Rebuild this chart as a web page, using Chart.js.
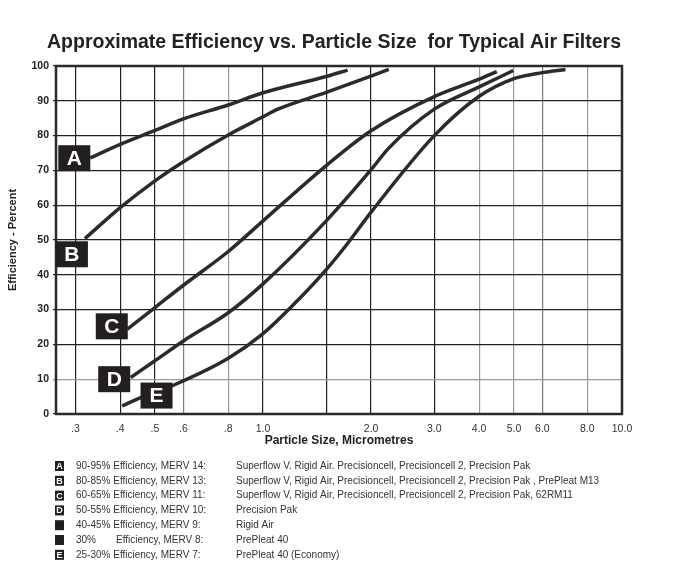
<!DOCTYPE html>
<html>
<head>
<meta charset="utf-8">
<script src="https://cdn.jsdelivr.net/npm/chart.js@4.4.1/dist/chart.umd.min.js"></script>
<style>
    html, body { margin: 0; padding: 0; background: #fff; }
    #wrap { position: relative; width: 679px; height: 583px; }
</style>
</head>
<body>
<div id="wrap"><canvas id="filters" width="679" height="583"></canvas></div>
<script>
    // axis ticks
    const xTicks = [0.3, 0.4, 0.5, 0.6, 0.8, 1.0, 1.5, 2.0, 3.0, 4.0, 5.0, 6.0, 8.0, 10.0];
    const xTickLabels = ['.3', '.4', '.5', '.6', '.8', '1.0', '', '2.0', '3.0', '4.0', '5.0', '6.0', '8.0', '10.0'];
    const yTicks = [0, 10, 20, 30, 40, 50, 60, 70, 80, 90, 100];

    // curves (particle size in micrometres, efficiency %)
    const curveA_x = [0.330, 0.4, 0.5, 0.6, 0.8, 1.0, 1.5, 1.72];
    const curveA_y = [73.6, 77.5, 81.5, 84.8, 88.8, 92.3, 97.0, 98.8];

    const curveB_x = [0.319, 0.4, 0.5, 0.6, 0.8, 1.0, 1.10, 1.5, 2.0, 2.24];
    const curveB_y = [50.4, 59.3, 67.0, 72.5, 80.2, 85.4, 87.6, 92.4, 97.1, 99.0];

    const curveC_x = [0.419, 0.5, 0.6, 0.8, 1.0, 1.5, 2.0, 3.0, 4.0, 4.48];
    const curveC_y = [24.4, 30.6, 37.0, 46.7, 55.5, 71.4, 81.4, 91.2, 96.2, 98.4];

    const curveD_x = [0.428, 0.5, 0.6, 0.8, 1.0, 1.5, 2.0, 2.24, 3.0, 4.0, 4.98];
    const curveD_y = [10.5, 15.3, 21.0, 29.1, 37.4, 55.5, 70.2, 76.4, 87.6, 94.0, 98.7];

    const curveE_x = [0.405, 0.456, 0.567, 0.8, 1.0, 1.226, 1.5, 1.72, 2.0, 3.0, 4.0, 5.0, 6.0, 6.96];
    const curveE_y = [2.3, 4.7, 8.4, 16.0, 23.1, 31.8, 41.5, 49.0, 58.0, 80.0, 91.3, 96.4, 98.1, 99.0];

    // letter tags on the curves
    const tagLetters = ['A', 'B', 'C', 'D', 'E'];
    const tagX = [0.298, 0.2935, 0.379, 0.385, 0.505];
    const tagY = [73.5, 45.9, 25.2, 10.0, 5.3];

    // key below the chart
    const keyCodes = ['A', 'B', 'C', 'D', '', '', 'E'];
    const keyRatings = ['90-95%', '80-85%', '60-65%', '50-55%', '40-45%', '30%', '25-30%'];
    const keyMerv = ['Efficiency, MERV 14:', 'Efficiency, MERV 13:', 'Efficiency, MERV 11:', 'Efficiency, MERV 10:',
        'Efficiency, MERV 9:', 'Efficiency, MERV 8:', 'Efficiency, MERV 7:'];
    const keyProducts = [
        'Superflow V. Rigid Air. Precisioncell, Precisioncell 2, Precision Pak',
        'Superflow V, Rigid Air, Precisioncell, Precisioncell 2, Precision Pak , PrePleat M13',
        'Superflow V, Rigid Air, Precisioncell, Precisioncell 2, Precision Pak, 62RM11',
        'Precision Pak',
        'Rigid Air',
        'PrePleat 40',
        'PrePleat 40 (Economy)'
    ];

    const FONT = "'Liberation Sans', Arial, Helvetica, sans-serif";

    function toPoints(xs, ys) {
        return xs.map((x, i) => ({ x: x, y: ys[i] }));
    }

    function gridColorX(ctx) {
        const v = ctx.tick ? ctx.tick.value : null;
        if (v === 0.6 || v === 6.0) return '#7a7a7a';
        if (v === 0.8 || v === 4.0 || v === 5.0 || v === 8.0) return '#9a9a9a';
        return '#222';
    }

    function gridColorY(ctx) {
        const v = ctx.tick ? ctx.tick.value : null;
        return v === 10 ? '#9a9a9a' : '#222';
    }

    // frame, tags, title and key
    const extrasPlugin = {
        id: 'extras',
        beforeDatasetsDraw(chart) {
            const { ctx, chartArea: a } = chart;
            ctx.save();
            ctx.strokeStyle = '#2a2a2a';
            ctx.lineWidth = 2.5;
            ctx.strokeRect(a.left, a.top, a.right - a.left, a.bottom - a.top);
            ctx.restore();
        },
        afterDatasetsDraw(chart) {
            const { ctx } = chart;
            const xs = chart.scales.x, ys = chart.scales.y;
            ctx.save();
            ctx.textAlign = 'center';
            ctx.textBaseline = 'middle';
            ctx.font = 'bold 21px ' + FONT;
            tagLetters.forEach((t, i) => {
                const px = xs.getPixelForValue(tagX[i]);
                const py = ys.getPixelForValue(tagY[i]);
                ctx.fillStyle = '#231f20';
                ctx.fillRect(px - 16, py - 13, 32, 26);
                ctx.fillStyle = '#fff';
                ctx.fillText(t, px, py + 1);
            });
            ctx.restore();
        },
        afterDraw(chart) {
            const { ctx } = chart;
            ctx.save();
            // title
            ctx.fillStyle = '#222';
            ctx.textAlign = 'center';
            ctx.textBaseline = 'middle';
            ctx.font = 'bold 19.5px ' + FONT;
            ctx.fillText('Approximate Efficiency vs. Particle Size  for Typical Air Filters', 334, 43);

            // key
            ctx.textAlign = 'left';
            keyRatings.forEach((r, i) => {
                const y = 466 + i * 14.8;
                ctx.fillStyle = '#231f20';
                ctx.fillRect(55, y - 5, 9, 10);
                if (keyCodes[i]) {
                    ctx.fillStyle = '#fff';
                    ctx.font = 'bold 9px ' + FONT;
                    ctx.textAlign = 'center';
                    ctx.fillText(keyCodes[i], 59.5, y + 0.5);
                    ctx.textAlign = 'left';
                }
                ctx.fillStyle = '#333';
                ctx.font = '10px ' + FONT;
                if (r === '30%') {
                    ctx.fillText(r, 76, y);
                    ctx.fillText(keyMerv[i], 116, y);
                } else {
                    ctx.fillText(r + ' ' + keyMerv[i], 76, y);
                }
                ctx.fillText(keyProducts[i], 236, y);
            });
            ctx.restore();
        }
    };

    const lineStyle = {
        borderColor: '#2b2b2b',
        borderWidth: 3.5,
        pointRadius: 0,
        fill: false,
        cubicInterpolationMode: 'monotone'
    };

    new Chart(document.getElementById('filters'), {
        type: 'line',
        data: {
            datasets: [
                Object.assign({ label: 'A', data: toPoints(curveA_x, curveA_y) }, lineStyle),
                Object.assign({ label: 'B', data: toPoints(curveB_x, curveB_y) }, lineStyle),
                Object.assign({ label: 'C', data: toPoints(curveC_x, curveC_y) }, lineStyle),
                Object.assign({ label: 'D', data: toPoints(curveD_x, curveD_y) }, lineStyle),
                Object.assign({ label: 'E', data: toPoints(curveE_x, curveE_y) }, lineStyle)
            ]
        },
        options: {
            responsive: false,
            animation: false,
            layout: { padding: { top: 66, right: 57, bottom: 129, left: 0 } },
            plugins: {
                legend: { display: false },
                tooltip: { enabled: false }
            },
            scales: {
                x: {
                    type: 'logarithmic',
                    min: 0.265,
                    max: 10,
                    afterBuildTicks(scale) {
                        scale.ticks = xTicks.map(v => ({ value: v }));
                    },
                    afterFit(scale) { scale.height = 40; },
                    ticks: {
                        autoSkip: false,
                        maxRotation: 0,
                        padding: 9,
                        color: '#333',
                        font: { family: FONT, size: 10.5 },
                        callback: (value, index) => xTickLabels[index]
                    },
                    grid: { color: gridColorX, lineWidth: 1.2, drawTicks: false },
                    border: { display: false },
                    title: {
                        display: true,
                        text: 'Particle Size, Micrometres',
                        color: '#222',
                        font: { family: FONT, size: 12, weight: 'bold' },
                        padding: { top: 0, bottom: 6 }
                    }
                },
                y: {
                    min: 0,
                    max: 100,
                    afterBuildTicks(scale) {
                        scale.ticks = yTicks.map(v => ({ value: v }));
                    },
                    afterFit(scale) { scale.width = 56; },
                    ticks: {
                        padding: 4,
                        color: '#222',
                        font: { family: FONT, size: 10.5, weight: 'bold' }
                    },
                    grid: { color: gridColorY, lineWidth: 1.2, tickLength: 3 },
                    border: { display: false },
                    title: {
                        display: true,
                        text: 'Efficiency - Percent',
                        color: '#222',
                        font: { family: FONT, size: 11, weight: 'bold' },
                        padding: { top: 6, bottom: 0 }
                    }
                }
            }
        },
        plugins: [extrasPlugin]
    });
</script>
</body>
</html>
